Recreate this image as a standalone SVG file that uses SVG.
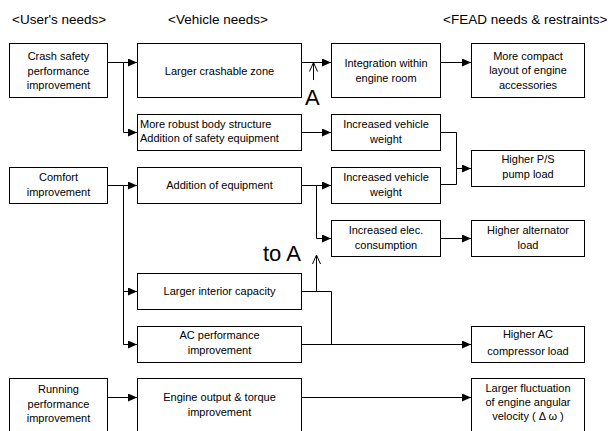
<svg xmlns="http://www.w3.org/2000/svg" width="608" height="431" viewBox="0 0 608 431">
<style>
text{font-family:"Liberation Sans",Arial,sans-serif;font-size:11px;fill:#000;text-anchor:middle;dominant-baseline:central}
.hdr{font-size:13.5px;text-anchor:start}
.big{font-size:22px;text-anchor:start;dominant-baseline:alphabetic}
.lft{text-anchor:start}
.n rect{fill:#fff;stroke:#000;stroke-width:1}
.c path{fill:none;stroke:#000;stroke-width:1}
</style>
<defs>
<marker id="ah" markerUnits="userSpaceOnUse" markerWidth="9" markerHeight="8" refX="9" refY="4" orient="auto"><path d="M0,0 L9,4 L0,8 z" fill="#000"/></marker>
<marker id="oh" markerUnits="userSpaceOnUse" markerWidth="11" markerHeight="10" refX="10" refY="5" orient="auto"><path d="M1,1 L10,5 L1,9" fill="none" stroke="#000" stroke-width="1"/></marker>
</defs>
<rect width="608" height="431" fill="#fff"/>
<text class="hdr" x="12" y="19">&lt;User's needs&gt;</text>
<text class="hdr" x="168" y="19">&lt;Vehicle needs&gt;</text>
<text class="hdr" x="443" y="19">&lt;FEAD needs &amp; restraints&gt;</text>

<g class="c" id="connectors">
<path d="M107.5,62.5 H137" marker-end="url(#ah)"/>
<path d="M123.5,62.5 V132.5 H137" marker-end="url(#ah)"/>
<path d="M301.5,62.5 H331" marker-end="url(#ah)"/>
<path d="M440.5,62.5 H471" marker-end="url(#ah)"/>
<path d="M301.5,132.5 H331" marker-end="url(#ah)"/>
<path d="M440.5,132.5 H456.5 V184.5 H440.5"/>
<path d="M456.5,168.5 H471" marker-end="url(#ah)"/>
<path d="M107.5,185.5 H137" marker-end="url(#ah)"/>
<path d="M123.5,185.5 V344.5 H137" marker-end="url(#ah)"/>
<path d="M123.5,291.5 H137" marker-end="url(#ah)"/>
<path d="M301.5,185.5 H331" marker-end="url(#ah)"/>
<path d="M316.5,185.5 V238.5 H331" marker-end="url(#ah)"/>
<path d="M440.5,238.5 H471" marker-end="url(#ah)"/>
<path d="M301.5,291.5 H331.5 V344.5"/>
<path d="M316.5,291.5 V255" marker-end="url(#oh)"/>
<path d="M301.5,344.5 H471" marker-end="url(#ah)"/>
<path d="M107.5,397.5 H137" marker-end="url(#ah)"/>
<path d="M301.5,397.5 H471" marker-end="url(#ah)"/>
<path d="M313.5,80 V62.5" marker-end="url(#oh)"/>
</g>
<text class="big" x="305" y="105">A</text>
<text class="big" x="263" y="261">to A</text>

<g class="n" id="n_crash"><rect x="9.5" y="43.5" width="98" height="54"/><text x="58.5" y="56">Crash safety</text><text x="58.5" y="71">performance</text><text x="58.5" y="85">improvement</text></g>
<g class="n" id="n_comfort"><rect x="9.5" y="167.5" width="98" height="36"/><text x="58.5" y="177">Comfort</text><text x="58.5" y="192">improvement</text></g>
<g class="n" id="n_running"><rect x="9.5" y="378.5" width="98" height="56"/><text x="58.5" y="389">Running</text><text x="58.5" y="404">performance</text><text x="58.5" y="418">improvement</text></g>

<g class="n" id="n_crashzone"><rect x="137.5" y="43.5" width="164" height="54"/><text x="219.5" y="71">Larger crashable zone</text></g>
<g class="n" id="n_robust"><rect x="137.5" y="114.5" width="164" height="36"/><text class="lft" x="140" y="124">More robust body structure</text><text class="lft" x="140" y="138">Addition of safety equipment</text></g>
<g class="n" id="n_addeq"><rect x="137.5" y="167.5" width="164" height="36"/><text x="219.5" y="185">Addition of equipment</text></g>
<g class="n" id="n_interior"><rect x="137.5" y="273.5" width="164" height="36"/><text x="219.5" y="291">Larger interior capacity</text></g>
<g class="n" id="n_acperf"><rect x="137.5" y="326.5" width="164" height="36"/><text x="219.5" y="335">AC performance</text><text x="219.5" y="350">improvement</text></g>
<g class="n" id="n_engine"><rect x="137.5" y="378.5" width="164" height="56"/><text x="219.5" y="397">Engine output &amp; torque</text><text x="219.5" y="412">improvement</text></g>

<g class="n" id="n_integ"><rect x="331.5" y="43.5" width="109" height="54"/><text x="386" y="63">Integration within</text><text x="386" y="78">engine room</text></g>
<g class="n" id="n_weight1"><rect x="331.5" y="114.5" width="109" height="36"/><text x="386" y="124">Increased vehicle</text><text x="386" y="139">weight</text></g>
<g class="n" id="n_weight2"><rect x="331.5" y="167.5" width="109" height="36"/><text x="386" y="177">Increased vehicle</text><text x="386" y="192">weight</text></g>
<g class="n" id="n_elec"><rect x="331.5" y="220.5" width="109" height="36"/><text x="386" y="230">Increased elec.</text><text x="386" y="245">consumption</text></g>

<g class="n" id="n_compact"><rect x="471.5" y="43.5" width="113" height="54"/><text x="528" y="56">More compact</text><text x="528" y="70">layout of engine</text><text x="528" y="85">accessories</text></g>
<g class="n" id="n_ps"><rect x="471.5" y="150.5" width="113" height="36"/><text x="528" y="159">Higher P/S</text><text x="528" y="174">pump load</text></g>
<g class="n" id="n_alt"><rect x="471.5" y="220.5" width="113" height="36"/><text x="528" y="230">Higher alternator</text><text x="528" y="245">load</text></g>
<g class="n" id="n_ac"><rect x="471.5" y="326.5" width="113" height="36"/><text x="528" y="334">Higher AC</text><text x="528" y="351">compressor load</text></g>
<g class="n" id="n_fluct"><rect x="471.5" y="378.5" width="113" height="56"/><text x="528" y="388">Larger fluctuation</text><text x="528" y="402">of engine angular</text><text x="528" y="416">velocity ( Δ ω )</text></g>
</svg>
